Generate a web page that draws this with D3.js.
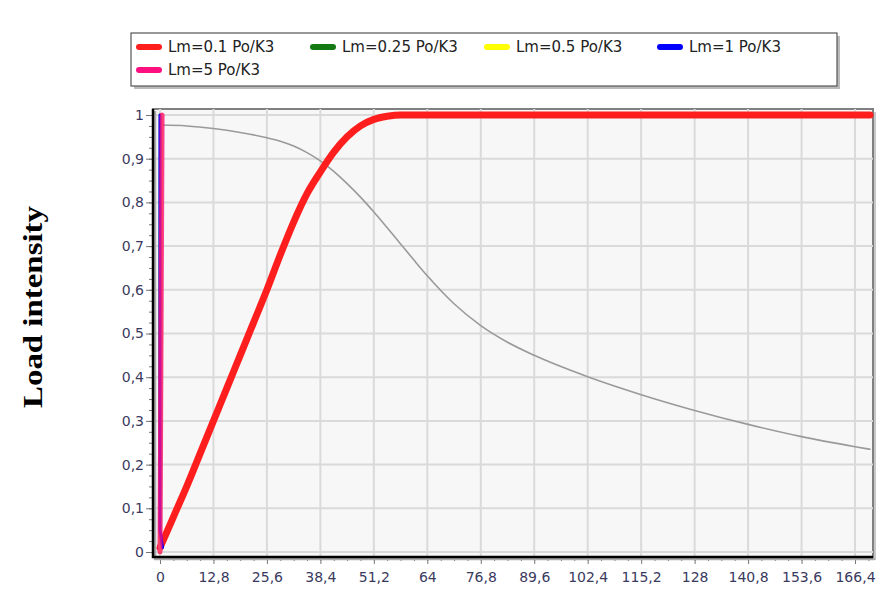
<!DOCTYPE html>
<html>
<head>
<meta charset="utf-8">
<script src="https://cdn.jsdelivr.net/npm/d3@7"></script>
<style>
  body { margin: 0; background: #fff; }
  svg { display: block; }
</style>
</head>
<body>
<svg id="chart" width="879" height="590"></svg>
<script>
// series data
const redX = [0, 3.2, 6.4, 9.6, 12.8, 16, 19.2, 22.4, 25.6, 28.8, 32, 35.2, 38.4, 41.6, 44.8, 48, 51.2, 54.4, 57.6, 64, 76.8, 89.6, 102.4, 115.2, 128, 140.8, 153.6, 166.4, 170];
const redY = [0.01, 0.08, 0.15, 0.225, 0.3, 0.375, 0.45, 0.525, 0.6, 0.68, 0.755, 0.82, 0.87, 0.915, 0.95, 0.975, 0.99, 0.997, 1, 1, 1, 1, 1, 1, 1, 1, 1, 1, 1];
const grayX = [0, 6.4, 12.8, 19.2, 25.6, 28.8, 32, 35.2, 38.4, 41.6, 44.8, 48, 51.2, 54.4, 57.6, 60.8, 64, 70.4, 76.8, 83.2, 89.6, 102.4, 115.2, 128, 140.8, 153.6, 166.4, 170];
const grayY = [0.977, 0.975, 0.969, 0.96, 0.948, 0.94, 0.929, 0.914, 0.895, 0.871, 0.843, 0.812, 0.778, 0.742, 0.705, 0.668, 0.632, 0.568, 0.518, 0.48, 0.45, 0.401, 0.36, 0.324, 0.292, 0.264, 0.241, 0.235];
const greenX = [0, 0.2], greenY = [0, 1];
const yellowX = [0, 0.3], yellowY = [0, 1];
const blueX = [0.6, 0, 0], blueY = [0.01, 0.05, 1];
const pinkX = [0, 0.5], pinkY = [0, 1];

const legendNames = ['Lm=0.1 Po/K3', 'Lm=0.25 Po/K3', 'Lm=0.5 Po/K3', 'Lm=1 Po/K3', 'Lm=5 Po/K3'];
const legendColors = ['#ff1e1e', '#137a13', '#ffff00', '#0000ff', '#ff1080'];
const xTicks = [0, 12.8, 25.6, 38.4, 51.2, 64, 76.8, 89.6, 102.4, 115.2, 128, 140.8, 153.6, 166.4];
const yTicks = [0, 0.1, 0.2, 0.3, 0.4, 0.5, 0.6, 0.7, 0.8, 0.9, 1];

const svg = d3.select('#chart');
const plot = { left: 153, right: 873, top: 109, bottom: 557 };
const x = d3.scaleLinear().domain([0, 166.4]).range([160, 855]);
const y = d3.scaleLinear().domain([0, 1]).range([552, 115]);
const fmt = (d) => String(+d.toFixed(1)).replace('.', ',');
const tickFont = 'DejaVu Sans, sans-serif';

// plot background + borders
svg.append('rect')
  .attr('x', plot.left + 3).attr('y', plot.top + 3)
  .attr('width', plot.right - plot.left).attr('height', plot.bottom - plot.top)
  .attr('fill', '#c8c8c8');
svg.append('rect')
  .attr('x', plot.left).attr('y', plot.top)
  .attr('width', plot.right - plot.left).attr('height', plot.bottom - plot.top)
  .attr('fill', '#f7f7f7').attr('stroke', '#808080').attr('stroke-width', 2);

// grid
svg.append('g').selectAll('line').data(xTicks).enter().append('line')
  .attr('x1', (d) => x(d)).attr('x2', (d) => x(d))
  .attr('y1', plot.top).attr('y2', plot.bottom)
  .attr('stroke', '#dadada').attr('stroke-width', 2);
svg.append('g').selectAll('line').data(yTicks).enter().append('line')
  .attr('x1', plot.left).attr('x2', plot.right)
  .attr('y1', (d) => y(d)).attr('y2', (d) => y(d))
  .attr('stroke', '#dadada').attr('stroke-width', 2);

// lines
const line = d3.line().curve(d3.curveMonotoneX).x((d) => x(d[0])).y((d) => y(d[1]));
const series = [
  { xs: grayX, ys: grayY, color: '#9a9a9a', w: 1.6, op: 1 },
  { xs: redX, ys: redY, color: legendColors[0], w: 7, op: 1 },
  { xs: greenX, ys: greenY, color: legendColors[1], w: 4, op: 1 },
  { xs: yellowX, ys: yellowY, color: legendColors[2], w: 4, op: 1 },
  { xs: blueX, ys: blueY, color: legendColors[3], w: 3, op: 1 },
  { xs: pinkX, ys: pinkY, color: legendColors[4], w: 5, op: 0.8 },
];
series.forEach((s) => {
  const pts = s.xs.map((v, i) => [v, s.ys[i]]);
  svg.append('path')
    .attr('fill', 'none')
    .attr('stroke', s.color)
    .attr('stroke-width', s.w)
    .attr('stroke-opacity', s.op)
    .attr('stroke-linecap', 'round')
    .attr('stroke-linejoin', 'round')
    .attr('d', s.xs[0] > s.xs[1] ? d3.line().x((d) => x(d[0])).y((d) => y(d[1]))(pts) : line(pts));
});

// axes
const xMinor = d3.range(0, 170, 3.2);
const yMinor = d3.range(0, 1.001, 0.025);
svg.append('g').attr('transform', `translate(0,${plot.bottom})`)
  .call(d3.axisBottom(x).tickValues(xMinor).tickSize(4).tickFormat(''))
  .call((g) => g.select('.domain').remove())
  .call((g) => g.selectAll('line').attr('stroke', '#777'));
svg.append('g').attr('transform', `translate(${plot.left},0)`)
  .call(d3.axisLeft(y).tickValues(yMinor).tickSize(4).tickFormat(''))
  .call((g) => g.select('.domain').remove())
  .call((g) => g.selectAll('line').attr('stroke', '#777'));

const xAxis = svg.append('g').attr('transform', `translate(0,${plot.bottom})`)
  .call(d3.axisBottom(x).tickValues(xTicks).tickSize(7).tickPadding(8).tickFormat(fmt));
xAxis.select('.domain').remove();
xAxis.selectAll('line').attr('stroke', '#777');
xAxis.selectAll('text').attr('font-family', tickFont).attr('font-size', 14).attr('fill', '#3a3a5e');

const yAxis = svg.append('g').attr('transform', `translate(${plot.left},0)`)
  .call(d3.axisLeft(y).tickValues(yTicks).tickSize(7).tickPadding(2).tickFormat(fmt));
yAxis.select('.domain').remove();
yAxis.selectAll('line').attr('stroke', '#777');
yAxis.selectAll('text').attr('font-family', tickFont).attr('font-size', 14).attr('fill', '#3a3a5e');

// black axis lines with shadow
svg.append('path')
  .attr('d', `M${plot.left + 2},${plot.top + 2}V${plot.bottom + 2}H${plot.right + 2}`)
  .attr('fill', 'none').attr('stroke', '#aaa').attr('stroke-width', 2.5);
svg.append('path')
  .attr('d', `M${plot.left},${plot.top}V${plot.bottom}H${plot.right}`)
  .attr('fill', 'none').attr('stroke', '#000').attr('stroke-width', 2.5);

// y title
svg.append('text')
  .attr('transform', 'translate(42,307) rotate(-90)')
  .attr('text-anchor', 'middle')
  .attr('font-family', 'Liberation Serif, Times New Roman, serif')
  .attr('font-weight', 'bold')
  .attr('font-size', 28)
  .attr('textLength', 202)
  .attr('lengthAdjust', 'spacingAndGlyphs')
  .attr('fill', '#000')
  .text('Load intensity');

// legend
const lg = svg.append('g');
lg.append('rect').attr('x', 134).attr('y', 36).attr('width', 706).attr('height', 53).attr('fill', '#bbb');
lg.append('rect').attr('x', 131).attr('y', 33).attr('width', 706).attr('height', 53)
  .attr('fill', '#fff').attr('stroke', '#555').attr('stroke-width', 1.2);
const legendX = [139, 313, 487, 660, 139];
const legendY = [47, 47, 47, 47, 70];
legendNames.forEach((name, i) => {
  lg.append('line')
    .attr('x1', legendX[i]).attr('x2', legendX[i] + 20)
    .attr('y1', legendY[i]).attr('y2', legendY[i])
    .attr('stroke', legendColors[i]).attr('stroke-width', 6).attr('stroke-linecap', 'round');
  lg.append('text')
    .attr('x', legendX[i] + 29).attr('y', legendY[i])
    .attr('dy', '0.35em')
    .attr('font-family', tickFont).attr('font-size', 15).attr('fill', '#222')
    .text(name);
});
</script>
</body>
</html>
